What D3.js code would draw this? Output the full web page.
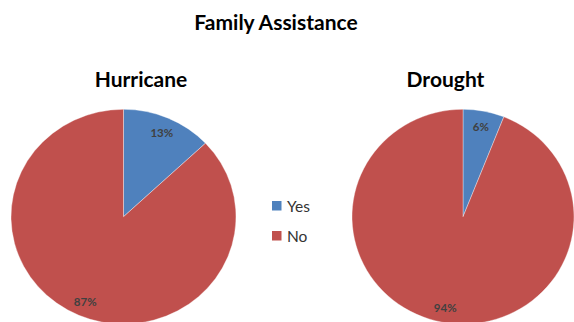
<!DOCTYPE html>
<html>
<head>
<meta charset="utf-8">
<script src="https://cdn.jsdelivr.net/npm/d3@7"></script>
<style>
  html, body { margin: 0; padding: 0; background: #fff; }
  svg { display: block; }
</style>
</head>
<body>
<svg id="chart" width="574" height="322"></svg>
<script>
// Survey answers: did the household receive family assistance?
const categories = ["Yes", "No"];
const hurricaneValues = [13, 87];
const droughtValues = [6, 94];
const chartTitle = "Family Assistance";
const pieTitles = ["Hurricane", "Drought"];

const colors = d3.scaleOrdinal().domain(categories).range(["#4F81BD", "#C0504D"]);
const font = "Lato, 'Open Sans', sans-serif";

const svg = d3.select("#chart");
svg.append("rect").attr("width", 574).attr("height", 322).attr("fill", "#fff");

svg.append("text")
  .attr("x", 276).attr("y", 30)
  .attr("text-anchor", "middle")
  .attr("font-family", font).attr("font-weight", "bold")
  .attr("font-size", 21).attr("fill", "#000")
  .text(chartTitle);

const pie = d3.pie().sort(null).value(d => d.value);

// Each pie is drawn slightly wider than tall, as in the exported chart.
const layouts = [
  { values: hurricaneValues, title: pieTitles[0], cx: 123.5, cy: 216.7, rx: 112.5, ry: 107.4, titleX: 141 },
  { values: droughtValues,   title: pieTitles[1], cx: 463,   cy: 216.7, rx: 111,   ry: 107.4, titleX: 445.5 }
];

layouts.forEach(p => {
  const data = categories.map((c, i) => ({ category: c, value: p.values[i] }));
  const arcs = pie(data);
  const sx = p.rx / p.ry;
  const arc = d3.arc().innerRadius(0).outerRadius(p.ry);
  const labelArc = d3.arc().innerRadius(92).outerRadius(92);

  svg.append("text")
    .attr("x", p.titleX).attr("y", 87)
    .attr("text-anchor", "middle")
    .attr("font-family", font).attr("font-weight", "bold")
    .attr("font-size", 21).attr("fill", "#000")
    .text(p.title);

  const g = svg.append("g")
    .attr("transform", `translate(${p.cx},${p.cy}) scale(${sx},1)`);

  g.selectAll("path")
    .data(arcs)
    .join("path")
    .attr("d", arc)
    .attr("fill", d => colors(d.data.category))
    .attr("stroke", "#fff")
    .attr("stroke-opacity", 0.5)
    .attr("stroke-width", 0.7);

  svg.selectAll(null)
    .data(arcs)
    .join("text")
    .attr("x", d => p.cx + labelArc.centroid(d)[0] * sx)
    .attr("y", d => p.cy + labelArc.centroid(d)[1])
    .attr("text-anchor", "middle")
    .attr("dominant-baseline", "central")
    .attr("font-family", font).attr("font-weight", "bold")
    .attr("font-size", 11.5).attr("fill", "#404040")
    .text(d => d.data.value + "%");
});

// Legend between the two pies
const legend = svg.append("g").attr("transform", "translate(272,200)");
const rows = legend.selectAll("g")
  .data(categories)
  .join("g")
  .attr("transform", (d, i) => `translate(0,${i * 30})`);
rows.append("rect")
  .attr("width", 9.5).attr("height", 9.5)
  .attr("y", 1)
  .attr("fill", d => colors(d));
rows.append("text")
  .attr("x", 15).attr("y", 11.5)
  .attr("font-family", font)
  .attr("font-size", 15.5).attr("fill", "#333")
  .text(d => d);
</script>
</body>
</html>
